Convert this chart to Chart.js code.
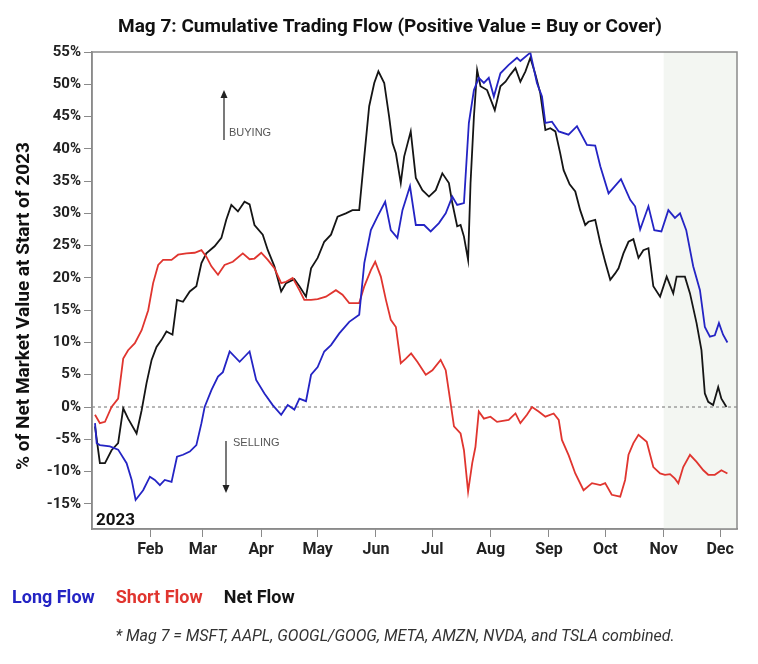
<!DOCTYPE html>
<html>
<head>
    <title>Mag 7 cumulative trading flow</title>
    <script src="https://cdn.jsdelivr.net/npm/chart.js@4.4.1/dist/chart.umd.min.js"></script>
    <style>
        body { margin: 0; background: #fff; }
    </style>
</head>
<body>
    <canvas id="chartCanvas" width="758" height="664"></canvas>

    <script>
        // days counted from 1 Jan 2023
        const monthStarts = [31, 59, 90, 120, 151, 181, 212, 243, 273, 304, 334];
        const monthLabels = ['Feb', 'Mar', 'Apr', 'May', 'Jun', 'Jul', 'Aug', 'Sep', 'Oct', 'Nov', 'Dec'];
        const yTicks = [-15, -10, -5, 0, 5, 10, 15, 20, 25, 30, 35, 40, 45, 50, 55];

        const longDays = [1.6, 2.5, 4.2, 9.5, 13.9, 18.4, 21.1, 23.2, 27.2, 30.8, 33.4, 36.1, 38.7, 42.3, 45.2, 48.4, 52, 55.5, 58.2, 59.9,
            63.5, 67, 69.6, 73.2, 78.5, 83.8, 87.3, 91.7, 96.1, 100.6, 104.1, 107.6, 110.3, 113.8, 116.5, 120, 123.5, 127.1, 131.5, 136.8,
            142.1, 144.8, 148.3, 151.8, 155.9, 158.9, 162.4, 165.1, 169.1, 172.2, 176.6, 180.1, 184.5, 188.1, 191.6, 194.2, 197.8, 200.4, 203.1, 205.7,
            208.4, 211, 213.7, 217.2, 221.6, 226, 227.8, 233.1, 236.6, 239.3, 241.1, 244.6, 248.2, 253.4, 257.9, 263.2, 267.6, 270.3, 274.7, 281.3,
            286.2, 288.8, 291.5, 295.9, 299, 302.8, 306.5, 310, 312.7, 316, 319.7, 323.3, 325.9, 328.6, 331.2, 333.4, 335.6, 337.9];
        const longFlow = [-2.5, -5.6, -5.9, -6.1, -6.6, -8.7, -11.3, -14.4, -12.9, -10.8, -11.3, -12.1, -11.3, -11.6, -7.7, -7.4, -6.9, -5.9, -2.5, 0,
            2.6, 4.7, 5.4, 8.6, 7.0, 8.6, 4.2, 2.1, 0.3, -1.2, 0.3, -0.4, 1.3, 0.9, 5.0, 6.2, 8.6, 9.6, 11.4, 13.2,
            14.3, 22.3, 27.4, 29.5, 31.8, 27.4, 26.2, 30.5, 34.2, 28.2, 28.2, 27.2, 28.5, 30.0, 32.6, 31.3, 31.6, 44.0, 49.1, 51.0,
            50.2, 51.0, 48.1, 51.7, 53.0, 54.1, 53.6, 54.9, 50.2, 48.1, 44.0, 44.2, 42.7, 42.2, 43.5, 40.6, 40.5, 37.3, 33.1, 35.3,
            32.1, 31.1, 27.5, 31.1, 27.4, 27.2, 30.5, 29.3, 30.0, 27.4, 21.8, 18.1, 12.4, 10.9, 11.1, 13.0, 11.2, 10.0];

        const shortDays = [1.6, 4.2, 6.9, 10.4, 13.9, 16.6, 19.2, 22.8, 26.4, 29.9, 32.5, 35.2, 37.8, 42.3, 45.8, 50.2, 54.6, 58.2, 60.8, 63.5,
            67, 70.5, 74.9, 80.2, 83.8, 86.4, 90, 93.5, 97, 100.6, 103.2, 106.7, 110.3, 112.9, 116.5, 120, 124.4, 129.7, 133.2, 136.8,
            142.1, 144.8, 148.3, 150.6, 153.6, 156.3, 158.9, 161.6, 164.2, 166.9, 169.7, 173, 177.5, 181, 185.4, 188.1, 190.7, 192.5, 196, 197.8,
            200, 202.2, 203.9, 205.7, 208.4, 211.9, 215.4, 221.6, 225.2, 227.8, 231.3, 234, 237.5, 241.1, 245.5, 248.2, 249.9, 253.5, 257, 261.4,
            265.9, 270.3, 272.9, 276.4, 280.9, 283.5, 285.3, 287.9, 290.6, 295, 298.5, 302.1, 304.7, 307.4, 310, 311.8, 314.4, 318, 321.5, 325.1,
            327.7, 331.2, 334.7, 337.9];
        const shortFlow = [-1.2, -2.5, -2.3, 0, 1.3, 7.5, 8.8, 9.9, 11.9, 15.0, 19.2, 22.0, 22.8, 22.8, 23.6, 23.8, 23.9, 24.3, 23.3, 21.8,
            20.5, 22.0, 22.5, 23.8, 22.9, 23.0, 23.9, 22.8, 21.5, 19.2, 19.4, 20.0, 18.1, 16.6, 16.6, 16.7, 17.1, 18.1, 17.4, 16.1,
            16.1, 18.7, 21.2, 22.5, 20.2, 16.6, 13.5, 12.4, 6.8, 7.5, 8.3, 7.0, 5.0, 5.7, 7.3, 5.7, 0.6, -3.0, -4.1, -6.7,
            -13.1, -8.7, -6.2, -0.7, -1.8, -1.5, -2.3, -2.0, -1.0, -2.5, -1.2, 0, -0.7, -1.5, -1.0, -2.0, -5.1, -7.5, -10.3, -12.9,
            -11.8, -12.1, -11.8, -13.6, -13.9, -11.3, -7.4, -5.6, -4.3, -5.4, -9.3, -10.3, -10.5, -10.4, -11.1, -11.8, -9.3, -7.4, -8.5, -9.8,
            -10.5, -10.5, -9.8, -10.3];

        const netDays = [1.6, 4.2, 6.9, 10.4, 13.9, 16.6, 19.2, 23.7, 26.4, 29, 31.7, 34.3, 37, 39.6, 42.8, 45.2, 48.4, 52, 55.5, 58.2,
            60.8, 65.2, 68.8, 71.4, 74.1, 77.6, 81.1, 83.8, 86.4, 90.8, 93.5, 97, 100.6, 103.2, 107.6, 110.3, 113.8, 116.5, 120, 123.5,
            127.1, 130.6, 135, 138.5, 142.1, 144.8, 147.4, 150.1, 152.3, 155.4, 158, 159.8, 161.6, 164.2, 166, 169.5, 172.2, 175.7, 179.2, 182.8,
            186.3, 189.8, 191.6, 194.2, 196, 197.8, 200, 201.3, 203.1, 204.8, 206.6, 210.1, 214.2, 217.2, 219.9, 222.5, 225.2, 227.8, 230.5, 233.1,
            235.8, 238.4, 241.1, 243.7, 246.4, 249, 250.8, 254, 257, 259.6, 262.3, 264, 267.6, 270.3, 272.9, 275.6, 278.2, 280, 282.6, 285.3,
            287.9, 290.6, 293.2, 295.9, 298.5, 302.1, 305.6, 309.1, 310.9, 315.3, 318, 321.5, 324.1, 325.9, 327.7, 330.3, 333, 334.7, 337.4];
        const netFlow = [-3.0, -8.7, -8.7, -6.7, -5.6, -0.2, -1.8, -4.1, -0.5, 3.7, 7.3, 9.3, 10.4, 11.7, 11.2, 16.6, 16.3, 17.9, 18.7, 22.3,
            23.8, 24.9, 26.2, 29.0, 31.3, 30.3, 31.8, 31.4, 28.2, 26.7, 24.3, 21.8, 17.9, 19.2, 19.8, 18.7, 17.1, 21.5, 23.1, 25.6,
            26.7, 29.5, 30.0, 30.5, 30.5, 38.8, 46.6, 50.2, 52.0, 50.2, 45.0, 40.9, 39.3, 34.7, 38.8, 42.7, 35.5, 33.6, 32.6, 33.6,
            36.2, 34.7, 31.6, 28.0, 28.2, 26.4, 22.8, 34.7, 45.0, 52.2, 49.7, 49.1, 46.0, 49.7, 50.4, 51.5, 52.5, 50.4, 52.0, 54.1,
            51.5, 48.6, 42.9, 43.2, 42.7, 39.3, 36.7, 34.5, 33.4, 30.5, 28.2, 28.7, 29.0, 25.4, 22.5, 19.7, 20.7, 21.5, 23.8, 25.6,
            26.0, 23.1, 24.3, 24.6, 18.7, 17.1, 20.2, 17.6, 20.2, 20.2, 17.6, 13.0, 8.8, 2.1, 0.8, 0.3, 3.1, 1.3, 0];

        const series = [
            { label: 'Long Flow', days: longDays, values: longFlow, color: '#2424c4' },
            { label: 'Short Flow', days: shortDays, values: shortFlow, color: '#e0352f' },
            { label: 'Net Flow', days: netDays, values: netFlow, color: '#151515' },
        ];

        const FONT = 'Roboto, "Liberation Sans", sans-serif';

        // shading, zero line, frame and all the text round the plot
        const decor = {
            id: 'decor',
            beforeDatasetsDraw(chart) {
                const { ctx, chartArea: a, scales: { x, y } } = chart;
                ctx.save();
                ctx.fillStyle = '#f3f6f2';
                const xn = x.getPixelForValue(304);
                ctx.fillRect(xn, a.top, a.right - xn, a.bottom - a.top);

                ctx.strokeStyle = '#888';
                ctx.lineWidth = 1.2;
                ctx.setLineDash([3, 3]);
                const y0 = y.getPixelForValue(0);
                ctx.beginPath();
                ctx.moveTo(a.left, y0);
                ctx.lineTo(a.right, y0);
                ctx.stroke();
                ctx.restore();
            },
            afterDraw(chart) {
                const { ctx, chartArea: a } = chart;
                ctx.save();

                // frame
                ctx.strokeStyle = '#8a8a8a';
                ctx.lineWidth = 1.5;
                ctx.strokeRect(a.left, a.top, a.right - a.left, a.bottom - a.top);

                // title
                ctx.fillStyle = '#111';
                ctx.font = 'bold 19px ' + FONT;
                ctx.textAlign = 'center';
                ctx.textBaseline = 'middle';
                ctx.fillText('Mag 7: Cumulative Trading Flow (Positive Value = Buy or Cover)', 390, 27);

                // y axis title
                ctx.save();
                ctx.translate(24, 306);
                ctx.rotate(-Math.PI / 2);
                ctx.font = 'bold 19px ' + FONT;
                ctx.fillText('% of Net Market Value at Start of 2023', 0, 0);
                ctx.restore();

                // 2023
                ctx.textAlign = 'left';
                ctx.textBaseline = 'alphabetic';
                ctx.font = 'bold 17px ' + FONT;
                ctx.fillText('2023', a.left + 4, a.bottom - 4);

                // buying / selling arrows
                ctx.strokeStyle = '#222';
                ctx.fillStyle = '#222';
                ctx.lineWidth = 1.2;
                ctx.beginPath();
                ctx.moveTo(224, 140);
                ctx.lineTo(224, 96);
                ctx.moveTo(226, 441);
                ctx.lineTo(226, 487);
                ctx.stroke();
                ctx.beginPath();
                ctx.moveTo(224, 90); ctx.lineTo(220.5, 98); ctx.lineTo(227.5, 98); ctx.closePath();
                ctx.moveTo(226, 493); ctx.lineTo(222.5, 485); ctx.lineTo(229.5, 485); ctx.closePath();
                ctx.fill();

                ctx.fillStyle = '#555';
                ctx.font = '11px "Liberation Sans", Arial, sans-serif';
                ctx.textBaseline = 'middle';
                ctx.fillText('BUYING', 229, 133);
                ctx.fillText('SELLING', 233, 443);

                // legend
                ctx.font = 'bold 18px ' + FONT;
                let lx = 12;
                series.forEach(s => {
                    ctx.fillStyle = s.color;
                    ctx.fillText(s.label, lx, 598);
                    lx += ctx.measureText(s.label).width + 21;
                });

                // footnote
                ctx.fillStyle = '#333';
                ctx.font = 'italic 16px ' + FONT;
                ctx.textAlign = 'center';
                ctx.fillText('* Mag 7 = MSFT, AAPL, GOOGL/GOOG, META, AMZN, NVDA, and TSLA combined.', 395, 637);
                ctx.restore();
            }
        };

        const ctx = document.getElementById('chartCanvas').getContext('2d');
        const chart = new Chart(ctx, {
            type: 'line',
            data: {
                datasets: series.map(s => ({
                    label: s.label,
                    data: s.days.map((d, i) => ({ x: d, y: s.values[i] })),
                    borderColor: s.color,
                    borderWidth: 1.8,
                    pointRadius: 0,
                    tension: 0,
                    fill: false,
                })),
            },
            options: {
                responsive: false,
                animation: false,
                layout: { padding: { top: 52, right: 21, bottom: 95, left: 0 } },
                plugins: {
                    legend: { display: false },
                    tooltip: { enabled: false },
                },
                scales: {
                    x: {
                        type: 'linear',
                        min: 0,
                        max: 343,
                        afterBuildTicks: s => { s.ticks = monthStarts.map(v => ({ value: v })); },
                        afterFit: s => { s.height = 40; },
                        ticks: {
                            autoSkip: false,
                            maxRotation: 0,
                            padding: 3,
                            color: '#222',
                            font: { family: FONT, size: 16, weight: 'bold' },
                            callback: v => monthLabels[monthStarts.indexOf(v)],
                        },
                        grid: { drawOnChartArea: false, tickLength: 8, color: '#8a8a8a' },
                        border: { color: '#8a8a8a', width: 1.5 },
                    },
                    y: {
                        min: -18.9,
                        max: 55,
                        afterBuildTicks: s => { s.ticks = yTicks.map(v => ({ value: v })); },
                        afterFit: s => { s.width = 92; },
                        ticks: {
                            padding: 3,
                            color: '#222',
                            font: { family: FONT, size: 15, weight: 'bold' },
                            callback: v => v + '%',
                        },
                        grid: { drawOnChartArea: false, tickLength: 8, color: '#8a8a8a' },
                        border: { color: '#8a8a8a', width: 1.5 },
                    },
                },
            },
            plugins: [decor],
        });
    </script>
</body>
</html>
